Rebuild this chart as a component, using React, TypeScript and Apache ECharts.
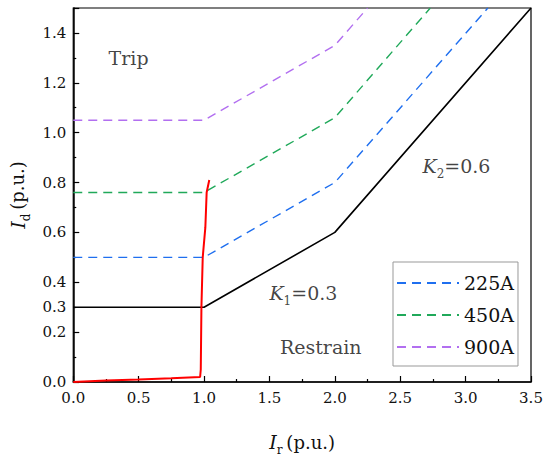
import React, { useEffect, useRef } from "react";
import * as echarts from "echarts";

const FONT = "DejaVu Serif";

// Characteristic curve (solid black)
const baseCurve: [number, number][] = [[0, 0.3], [1, 0.3], [2, 0.6], [3.5, 1.5]];
// Dashed curves per setting
const curve225: [number, number][] = [[0, 0.5], [1, 0.5], [2, 0.8], [3.17, 1.5]];
const curve450: [number, number][] = [[0, 0.76], [1, 0.76], [2, 1.06], [2.73, 1.5]];
const curve900: [number, number][] = [[0, 1.05], [1, 1.05], [2, 1.35], [2.25, 1.5]];
// Red trajectory
const trajectory: [number, number][] = [
  [0, 0], [0.25, 0.006], [0.5, 0.01], [0.75, 0.015], [0.97, 0.02], [0.975, 0.05],
  [0.98, 0.3], [0.99, 0.5], [1.01, 0.62], [1.02, 0.76], [1.04, 0.81],
];

const legendNames = ["225A", "450A", "900A"];
const seriesColors = ["#1f6fef", "#20a95a", "#b26ff0"];

const xTicks = { min: 0, max: 3.5, interval: 0.5 };
const yTicks = { min: 0, max: 1.5, interval: 0.2 };
const yExtraLabel = 0.3;

// Annotations: [x, y, rich text]
const annotations: { pos: [number, number]; text: string }[] = [
  { pos: [0.27, 1.3], text: "{t|Trip}" },
  { pos: [1.58, 0.14], text: "{t|Restrain}" },
  { pos: [1.5, 0.355], text: "{k|K}{s|1}{t|=0.3}" },
  { pos: [2.67, 0.865], text: "{k|K}{s|2}{t|=0.6}" },
];

const richText = {
  t: { fontFamily: FONT, fontSize: 19, color: "#111", lineHeight: 28 },
  k: { fontFamily: FONT, fontSize: 19, fontStyle: "italic", color: "#111", lineHeight: 28 },
  s: { fontFamily: FONT, fontSize: 12, color: "#111", lineHeight: 12, verticalAlign: "bottom" },
  n: { fontFamily: FONT, fontSize: 18, color: "#111", lineHeight: 28 },
};

export default function App() {
  const ref = useRef<HTMLDivElement>(null);
  useEffect(() => {
    if (!ref.current) return;
    const chart = echarts.init(ref.current, undefined, { renderer: "svg" });
    const dashed = [curve225, curve450, curve900].map((d, i) => ({
      name: legendNames[i],
      type: "line",
      data: d,
      symbol: "none",
      lineStyle: { color: seriesColors[i], width: 1.4, type: [9, 6] },
      itemStyle: { color: seriesColors[i] },
      z: 3,
    }));
    chart.setOption({
      animation: false,
      backgroundColor: "#fff",
      textStyle: { fontFamily: FONT },
      grid: {
        left: 70, right: 19, top: 8, bottom: 81,
        show: true, borderColor: "#000", borderWidth: 1.2, backgroundColor: "transparent",
      },
      legend: {
        data: legendNames,
        orient: "vertical",
        left: 393, top: 262,
        width: 125,
        padding: [10, 4, 8, 3],
        itemGap: 10,
        itemWidth: 62,
        itemHeight: 14,
        itemStyle: { opacity: 0 },
        borderColor: "#999",
        borderWidth: 1,
        textStyle: { fontFamily: FONT, fontSize: 19, color: "#111", lineHeight: 22 },
      },
      xAxis: {
        type: "value",
        min: xTicks.min, max: xTicks.max, interval: xTicks.interval,
        name: "{k|I}{s|r} {n|(p.u.)}",
        nameLocation: "middle",
        nameGap: 46,
        nameTextStyle: { fontFamily: FONT, rich: richText },
        axisLine: { lineStyle: { color: "#000", width: 1.5 } },
        axisTick: { inside: true, length: 6, lineStyle: { color: "#000", width: 1.2 } },
        minorTick: { show: true, splitNumber: 2, length: 3, lineStyle: { color: "#000", width: 1.2 } },
        splitLine: { show: false },
        axisLabel: {
          fontFamily: FONT, fontSize: 15, color: "#111", margin: 8,
          formatter: (v: number) => v.toFixed(1),
        },
      },
      yAxis: [
        {
          type: "value",
          min: yTicks.min, max: yTicks.max, interval: yTicks.interval,
          name: "{k|I}{s|d} {n|(p.u.)}",
          nameLocation: "middle",
          nameRotate: 90,
          nameGap: 40,
          nameTextStyle: { fontFamily: FONT, rich: richText },
          axisLine: { lineStyle: { color: "#000", width: 1.5 } },
          axisTick: { inside: true, length: 6, lineStyle: { color: "#000", width: 1.2 } },
          minorTick: { show: true, splitNumber: 2, length: 3, lineStyle: { color: "#000", width: 1.2 } },
          splitLine: { show: false },
          axisLabel: {
            fontFamily: FONT, fontSize: 15, color: "#111", margin: 7,
            formatter: (v: number) => (v > 1.45 ? "" : v.toFixed(1)),
          },
        },
        {
          type: "value",
          position: "left",
          min: 0, max: 1.5, interval: yExtraLabel,
          axisLine: { show: false },
          axisTick: { show: false },
          splitLine: { show: false },
          axisLabel: {
            fontFamily: FONT, fontSize: 15, color: "#111", margin: 7,
            formatter: (v: number) => (Math.abs(v - yExtraLabel) < 1e-6 ? v.toFixed(1) : ""),
          },
        },
      ],
      series: [
        {
          name: "base",
          type: "line",
          data: baseCurve,
          symbol: "none",
          lineStyle: { color: "#000", width: 1.6 },
          z: 4,
        },
        ...dashed,
        {
          name: "trajectory",
          type: "line",
          data: trajectory,
          symbol: "none",
          lineStyle: { color: "#f00", width: 2 },
          z: 5,
        },
        {
          name: "annotations",
          type: "scatter",
          symbolSize: 0,
          silent: true,
          data: annotations.map((a) => ({
            value: a.pos,
            label: {
              show: true, position: "right", distance: 0, formatter: a.text,
              fontFamily: FONT, fontSize: 19, color: "#111", rich: richText,
            },
          })),
          z: 6,
        },
      ],
    });
    return () => chart.dispose();
  }, []);
  return (
    <div
      ref={ref}
      style={{ position: "fixed", left: 0, top: 0, width: 550, height: 463 }}
    />
  );
}
